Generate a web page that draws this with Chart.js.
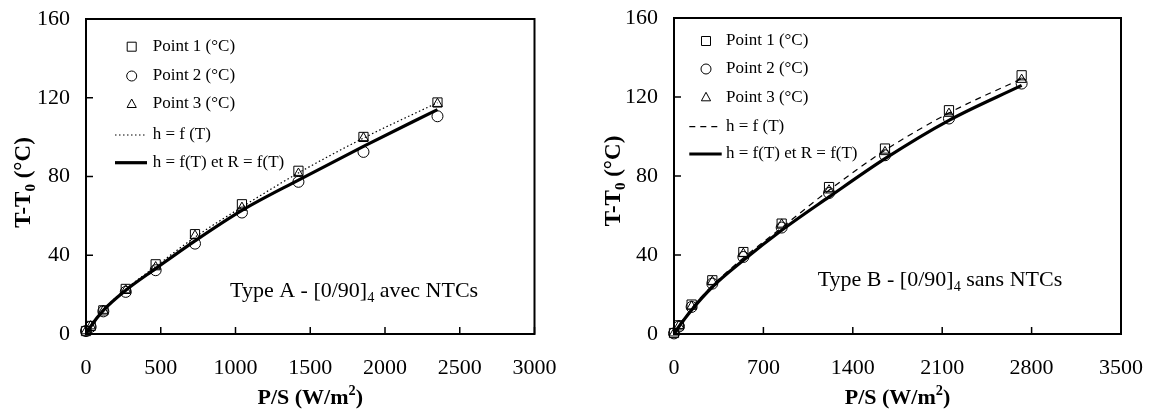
<!DOCTYPE html>
<html>
<head>
<meta charset="utf-8">
<script src="https://cdn.jsdelivr.net/npm/chart.js@4.4.0/dist/chart.umd.min.js"></script>
<style>
  html, body { margin:0; padding:0; background:#fff; }
  #wrap { position:relative; width:1149px; height:411px; }
  canvas { position:absolute; top:0; }
</style>
</head>
<body>
<div id="wrap">
  <canvas id="chartA" width="574" height="411" style="left:0"></canvas>
  <canvas id="chartB" width="575" height="411" style="left:574px"></canvas>
</div>
<script>
// ---- data, type A ----
const psA    = [0, 31, 116, 266, 466, 729, 1043, 1421, 1856, 2351];
const a_pt1  = [1.5, 4.1, 12.0, 22.9, 35.4, 50.7, 65.9, 82.9, 100.1, 117.6];
const a_pt2  = [1.5, 3.6, 11.5, 21.4, 32.4, 45.9, 61.7, 77.3, 92.5, 110.6];
const a_pt3  = [1.5, 4.0, 11.9, 22.3, 34.0, 50.0, 64.2, 81.5, 99.6, 117.0];
const a_h    = [0, 4.0, 12.3, 22.8, 34.3, 49.2, 64.5, 81.8, 99.5, 117.5];
const a_hR   = [0, 3.8, 12.0, 22.2, 33.2, 47.3, 62.8, 78.2, 95.3, 114.0];

// ---- data, type B ----
const psB    = [0, 39, 138, 300, 543, 843, 1214, 1652, 2153, 2722];
const b_pt1  = [0.5, 4.4, 14.9, 27.2, 41.5, 55.9, 74.4, 93.9, 113.3, 131.0];
const b_pt2  = [0.3, 3.8, 13.7, 25.5, 39.0, 53.9, 71.4, 90.5, 109.1, 126.8];
const b_pt3  = [0.4, 4.2, 14.0, 26.5, 40.7, 55.5, 72.8, 92.2, 111.6, 128.8];
const b_h    = [0, 4.2, 13.0, 24.5, 38.5, 53.8, 72.8, 93.0, 111.9, 129.3];
const b_hR   = [0, 3.8, 12.2, 23.8, 37.3, 52.5, 69.4, 88.8, 108.2, 125.9];

const legendLabels = ["Point 1 (°C)", "Point 2 (°C)", "Point 3 (°C)", "h = f (T)", "h = f(T) et R = f(T)"];
const yTicks = [0, 40, 80, 120, 160];

const SERIF = "'Liberation Serif', 'Times New Roman', serif";

const xy = (xs, ys) => xs.map((x, i) => ({ x, y: ys[i] }));

function drawMarker(ctx, style, x, y) {
  ctx.save();
  ctx.strokeStyle = "#000"; ctx.lineWidth = 1;
  ctx.beginPath();
  if (style === "rect") ctx.rect(x - 4.5, y - 4.5, 9, 9);
  else if (style === "circle") ctx.arc(x, y, 5, 0, Math.PI * 2);
  else { ctx.moveTo(x, y - 5); ctx.lineTo(x + 4.6, y + 3.5); ctx.lineTo(x - 4.6, y + 3.5); ctx.closePath(); }
  ctx.stroke();
  ctx.restore();
}

// parts: [text, 0 normal | 1 sub | -1 sup]
function drawRich(ctx, parts, x, y, size, weight, align) {
  const f = s => `${weight} ${s}px ${SERIF}`;
  let w = 0;
  parts.forEach(([t, m]) => { ctx.font = f(m ? size * 0.65 : size); w += ctx.measureText(t).width; });
  let cx = align === "center" ? x - w / 2 : x;
  ctx.textAlign = "left"; ctx.textBaseline = "alphabetic"; ctx.fillStyle = "#000";
  parts.forEach(([t, m]) => {
    const s = m ? size * 0.65 : size;
    ctx.font = f(s);
    const dy = m === 1 ? size * 0.22 : m === -1 ? -size * 0.42 : 0;
    ctx.fillText(t, cx, y + dy);
    cx += ctx.measureText(t).width;
  });
}

const decorPlugin = {
  id: "decor",
  afterDraw(chart) {
    const o = chart.options.plugins.decor;
    const ctx = chart.ctx, a = chart.chartArea;
    const xs = chart.scales.x, ys = chart.scales.y;
    ctx.save();
    // frame
    ctx.strokeStyle = "#000"; ctx.lineWidth = 2;
    ctx.strokeRect(a.left, a.top, a.right - a.left, a.bottom - a.top);
    // inward ticks
    ctx.lineWidth = 1.5;
    xs.ticks.forEach(t => {
      const px = xs.getPixelForValue(t.value);
      ctx.beginPath(); ctx.moveTo(px, a.bottom); ctx.lineTo(px, a.bottom - 7); ctx.stroke();
    });
    ys.ticks.forEach(t => {
      const py = ys.getPixelForValue(t.value);
      ctx.beginPath(); ctx.moveTo(a.left, py); ctx.lineTo(a.left + 7, py); ctx.stroke();
    });
    // legend
    ctx.fillStyle = "#000"; ctx.textAlign = "left";
    const styles = ["rect", "circle", "triangle"];
    legendLabels.forEach((lab, i) => {
      const ry = o.rows[i];
      if (i < 3) drawMarker(ctx, styles[i], o.markerX, ry);
      else {
        ctx.save();
        ctx.beginPath();
        if (i === 3) { ctx.lineWidth = 1.2; ctx.setLineDash(o.dash); }
        else ctx.lineWidth = 3.2;
        ctx.moveTo(o.lineX0, ry); ctx.lineTo(o.lineX1, ry); ctx.stroke();
        ctx.restore();
      }
      ctx.font = `17px ${SERIF}`; ctx.textBaseline = "middle";
      ctx.fillText(lab, o.textX, ry);
    });
    // annotation
    drawRich(ctx, o.note, o.noteX, o.noteY, 22, "normal", "left");
    // x title
    drawRich(ctx, [["P/S (W/m", 0], ["2", -1], [")", 0]], (a.left + a.right) / 2, 404, 22, "bold", "center");
    // y title
    ctx.save();
    ctx.translate(o.yTitleX, o.yTitleY);
    ctx.rotate(-Math.PI / 2);
    drawRich(ctx, [["T-T", 0], ["0", 1], [" (°C)", 0]], 0, 0, 23, "bold", "center");
    ctx.restore();
    ctx.restore();
  }
};

function makeChart(id, c) {
  const pointDs = (data, style, r) => ({
    type: "scatter", data, pointStyle: style, pointRadius: r, pointHoverRadius: r,
    borderColor: "#000", backgroundColor: "rgba(0,0,0,0)", borderWidth: 1, clip: false, showLine: false
  });
  const lineDs = (data, width, dash) => ({
    type: "line", data, borderColor: "#000", borderWidth: width, borderDash: dash,
    pointRadius: 0, fill: false, cubicInterpolationMode: "monotone", clip: false
  });
  const tickFont = { family: SERIF, size: 22 };
  return new Chart(document.getElementById(id), {
    data: {
      datasets: [
        lineDs(c.hR, 3.2, []),
        lineDs(c.h, 1.2, c.dash),
        pointDs(c.p1, "rect", 6.5),
        pointDs(c.p2, "circle", 5.5),
        pointDs(c.p3, "triangle", 5.5)
      ]
    },
    options: {
      responsive: false, animation: false, events: [],
      layout: { padding: c.pad },
      plugins: { legend: { display: false }, tooltip: { enabled: false }, decor: c.decor },
      scales: {
        x: {
          type: "linear", min: 0, max: c.xMax,
          ticks: { stepSize: c.xStep, font: tickFont, color: "#000", padding: 21, maxRotation: 0, autoSkip: false,
                   callback: v => String(v) },
          grid: { display: false, drawTicks: false }, border: { display: false },
          afterFit: s => { s.height = 77; s.paddingLeft = 0; s.paddingRight = 0; }
        },
        y: {
          type: "linear", min: 0, max: 160,
          afterBuildTicks: s => { s.ticks = yTicks.map(v => ({ value: v })); },
          ticks: { font: tickFont, color: "#000", padding: 16, callback: v => String(v) },
          grid: { display: false, drawTicks: false }, border: { display: false },
          afterFit: s => { s.width = c.yWidth; s.paddingTop = 0; s.paddingBottom = 0; }
        }
      }
    },
    plugins: [decorPlugin]
  });
}

makeChart("chartA", {
  p1: xy(psA, a_pt1), p2: xy(psA, a_pt2), p3: xy(psA, a_pt3),
  h: xy(psA, a_h), hR: xy(psA, a_hR),
  xMax: 3000, xStep: 500, dash: [1.5, 2.5], yWidth: 86,
  pad: { left: 0, top: 19, right: 39.5, bottom: 0 },
  decor: {
    rows: [46.7, 76, 104, 135, 162.7], markerX: 131.7, textX: 152.7, lineX0: 115, lineX1: 147,
    dash: [1.5, 2.5],
    note: [["Type A - [0/90]", 0], ["4", 1], [" avec NTCs", 0]], noteX: 230, noteY: 297,
    yTitleX: 30, yTitleY: 182.5
  }
});

makeChart("chartB", {
  p1: xy(psB, b_pt1), p2: xy(psB, b_pt2), p3: xy(psB, b_pt3),
  h: xy(psB, b_h), hR: xy(psB, b_hR),
  xMax: 3500, xStep: 700, dash: [6, 5], yWidth: 100,
  pad: { left: 0, top: 18, right: 28, bottom: 0 },
  decor: {
    rows: [41, 69, 97.3, 126.7, 154], markerX: 132, textX: 152, lineX0: 115.3, lineX1: 147.7,
    dash: [6, 5],
    note: [["Type B - [0/90]", 0], ["4", 1], [" sans NTCs", 0]], noteX: 243.7, noteY: 286,
    yTitleX: 45.5, yTitleY: 181
  }
});
</script>
</body>
</html>
